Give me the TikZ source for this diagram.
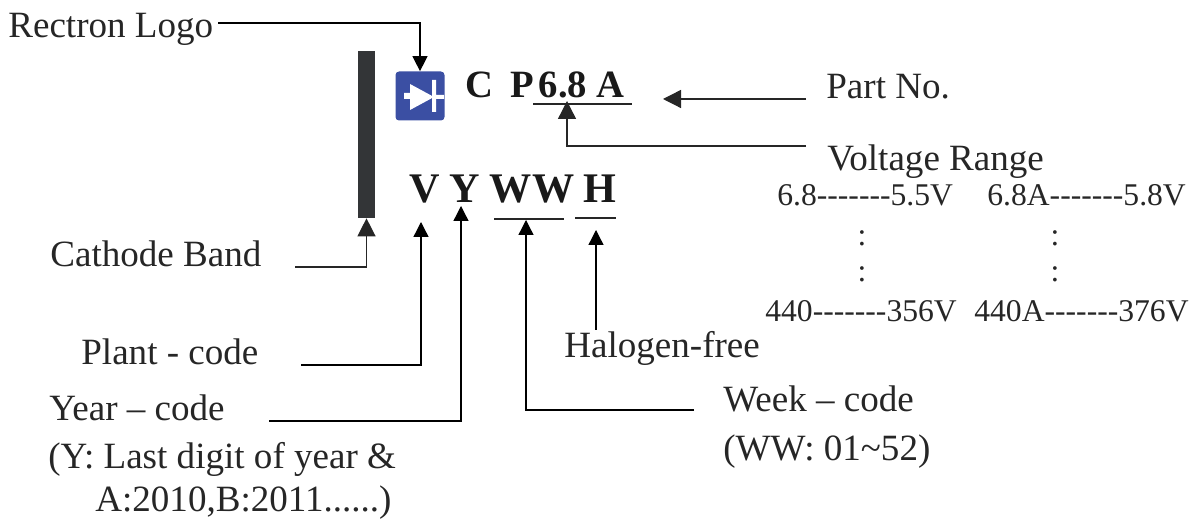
\documentclass[tikz,border=0pt]{standalone}
\usepackage{fontspec}
\setmainfont{Liberation Serif}
\newfontfamily\rangefont{Liberation Serif}
\usetikzlibrary{arrows.meta}
\definecolor{bandgray}{HTML}{333537}
\definecolor{logoblue}{HTML}{3B4FA3}
\tikzset{
  labeltext/.style={anchor=base west, inner sep=0pt, font=\fontsize{21.1}{21}\selectfont, text=black!85},
  rangetext/.style={anchor=base west, inner sep=0pt, font=\rangefont\fontsize{18}{18}\selectfont, text=black!85},
  codebig/.style={anchor=base, inner sep=0pt, font=\fontsize{24}{24}\selectfont\bfseries, text=black!90},
  codesmall/.style={anchor=base, inner sep=0pt, font=\fontsize{22}{22}\selectfont\bfseries, text=black!90},
  lead/.style={line width=0.75pt, draw=black!85, -{Triangle[length=0.36cm,width=0.36cm]}},
  leadthin/.style={line width=0.75pt, draw=black, -{Triangle[length=0.3cm,width=0.3cm]}},
  under/.style={line width=0.75pt, draw=black!85}
}
\begin{document}
\begin{tikzpicture}[x=0.02cm,y=-0.02cm]
  \useasboundingbox (0,0) rectangle (1197,519);
  % marking
  \node[fill=bandgray, minimum width=0.34cm, minimum height=3.34cm, inner sep=0pt] (band) at (366.5,134.5) {};
  \node[fill=logoblue, rounded corners=2pt, minimum size=0.98cm, inner sep=0pt] (logo) at (420,96) {};
  \fill[white] (404,93) -- (410,93) -- (410,84) -- (434,97) -- (410,110) -- (410,99) -- (404,99) -- cycle;
  \fill[white] (432,80) rectangle (436,112) (436,95) rectangle (444,99);
  \node[codesmall] (c) at (479,98) {C};
  \node[codesmall] (p) at (522,98) {P};
  \node[codesmall] (num) at (563,98) {6.8};
  \node[codesmall] (a) at (610,98) {A};
  \node[codebig] (v) at (425,203) {V};
  \node[codebig] (y) at (465,203) {Y};
  \node[codebig] (ww) at (532,203) {WW};
  \node[codebig] (h) at (600,203) {H};
  % labels
  \node[labeltext] (rectron) at (8,38) {Rectron Logo};
  \node[labeltext] (partno) at (826,99) {Part No.};
  \node[labeltext] (voltage) at (827,171) {Voltage Range};
  \node[labeltext] (cathode) at (50,267) {Cathode Band};
  \node[labeltext] (plant) at (81,365) {Plant - code};
  \node[labeltext] (halogen) at (564,358) {Halogen-free};
  \node[labeltext] (year) at (49,421) {Year -- code};
  \node[labeltext] (yearnote) at (48,469) {(Y: Last digit of year \&};
  \node[labeltext] (yearlist) at (95,512) {A:2010,B:2011......)};
  \node[labeltext] (week) at (723,412) {Week -- code};
  \node[labeltext] (weeknote) at (723,461) {(WW: 01\textasciitilde52)};
  % voltage table
  \node[rangetext] (r1) at (777,206) {6.8-------5.5V};
  \node[rangetext] (r2) at (987,206) {6.8A-------5.8V};
  \node[rangetext] (r3) at (765,322) {440-------356V};
  \node[rangetext] (r4) at (974,322) {440A-------376V};
  \foreach \name/\xpos/\ypos in {d1/862/246, d2/1055/246, d3/862/282, d4/1055/282}
    \node[rangetext, anchor=base] (\name) at (\xpos,\ypos) {:};
  % underlines
  \coordinate (numL) at (533,104);
  \coordinate (numR) at (632,104);
  \coordinate (wwL) at (494,219);
  \coordinate (wwR) at (564,219);
  \coordinate (hL) at (575,218);
  \coordinate (hR) at (616,218);
  \draw[under, line width=1.4pt] (numL) -- (numR);
  \draw[under] (wwL) -- (wwR);
  \draw[under] (hL) -- (hR);
  % free ends of the leads
  \coordinate (s1) at (218,23);
  \coordinate (s2) at (806,99);
  \coordinate (t2) at (663,99);
  \coordinate (s3) at (806,146);
  \coordinate (t3) at (567,101);
  \coordinate (s4) at (295,267);
  \coordinate (s5) at (301,365);
  \coordinate (t5) at (421,222);
  \coordinate (s6) at (269,421);
  \coordinate (t6) at (461,206);
  \coordinate (s7) at (694,410);
  \coordinate (t7) at (526,220);
  \coordinate (s8) at (596,330);
  \coordinate (t8) at (596,230);
  \draw[leadthin] (s1) -| (logo.north);
  \draw[lead] (s2) -- (t2);
  \draw[lead] (s3) -| (t3);
  \draw[lead] (s4) -| (band.south);
  \draw[leadthin] (s5) -| (t5);
  \draw[leadthin] (s6) -| (t6);
  \draw[leadthin] (s7) -| (t7);
  \draw[leadthin] (s8) -- (t8);
\end{tikzpicture}
\end{document}
